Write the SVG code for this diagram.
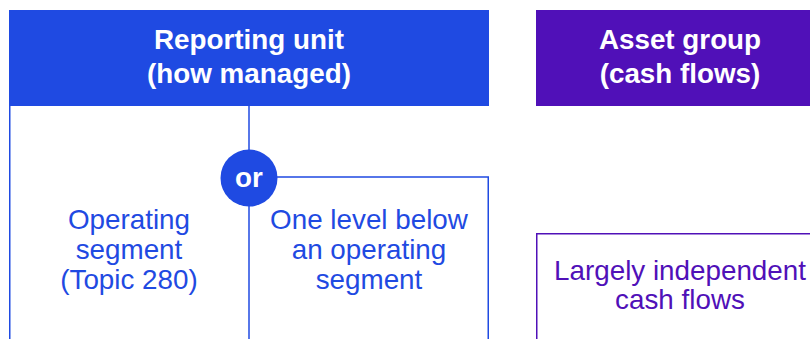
<svg xmlns="http://www.w3.org/2000/svg" width="810" height="339" viewBox="0 0 810 339">
<style>
.hd{font-family:"Liberation Sans",Arial,sans-serif;font-weight:bold;font-size:27.8px;fill:#fff;text-anchor:middle}
.bt{font-family:"Liberation Sans",Arial,sans-serif;font-size:27.8px;text-anchor:middle}
.blue{fill:#1f4ae2}
.purp{fill:#5010b8}
.lb{stroke:#1f4ae2;stroke-width:1.5;fill:none}
.lp{stroke:#5010b8;stroke-width:1.5;fill:none}
</style>
<rect width="810" height="339" fill="#fff"/>
<g id="reporting-unit">
<rect x="9" y="10" width="480" height="96" class="blue"/>
<text class="hd" x="249" y="49">Reporting unit</text>
<text class="hd" x="249" y="83">(how managed)</text>
</g>
<g id="connectors">
<path class="lb" d="M9.75 106 V339"/>
<path class="lb" d="M249 106 V339"/>
<path class="lb" d="M249 177 H488.25 V339"/>
<path class="lp" d="M536.75 339 V233.75 H810"/>
</g>
<g id="operating-segment">
<text class="bt blue" x="129" y="229">Operating</text>
<text class="bt blue" x="129" y="259">segment</text>
<text class="bt blue" x="129" y="289">(Topic 280)</text>
</g>
<g id="one-level-below">
<text class="bt blue" x="369" y="229">One level below</text>
<text class="bt blue" x="369" y="259">an operating</text>
<text class="bt blue" x="369" y="289">segment</text>
</g>
<g id="or">
<circle cx="249" cy="178" r="28.5" class="blue"/>
<text class="hd" x="249" y="187">or</text>
</g>
<g id="asset-group">
<rect x="536" y="10" width="274" height="96" class="purp"/>
<text class="hd" x="680" y="49">Asset group</text>
<text class="hd" x="680" y="83">(cash flows)</text>
</g>
<g id="largely-independent">
<text class="bt purp" x="680" y="280">Largely independent</text>
<text class="bt purp" x="680" y="309">cash flows</text>
</g>
</svg>
